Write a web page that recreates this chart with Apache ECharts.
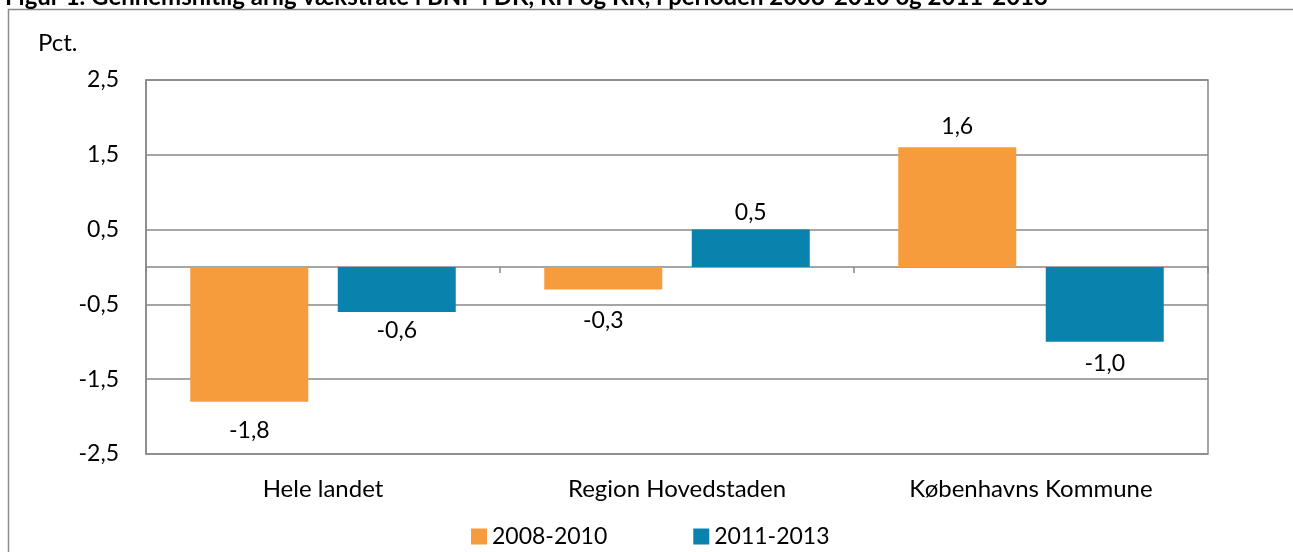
<!DOCTYPE html>
<html>
<head>
<meta charset="utf-8">
<script src="https://cdn.jsdelivr.net/npm/echarts@6/dist/echarts.min.js"></script>
<style>
  html, body { margin: 0; padding: 0; background: #fff; }
  #chart { width: 1293px; height: 552px; }
</style>
</head>
<body>
<div id="chart"></div>
<script>
const categories = ['Hele landet', 'Region Hovedstaden', 'Københavns Kommune'];
const seriesNames = ['2008-2010', '2011-2013'];
const values2008 = [-1.8, -0.3, 1.6];
const values2011 = [-0.6, 0.5, -1.0];
const colors = ['#f79c3c', '#0982ae'];

// the labels in the original sit at slightly different distances from the bars
const labelGap2008 = [17, 20, 9];
const labelGap2011 = [7, 6, 10];

const font = 'Lato, "Open Sans", sans-serif';
const fmt = v => v.toFixed(1).replace('.', ',');

// label above positive bars, below negative ones
function toData(arr, gaps) {
  return arr.map((v, i) => ({
    value: v,
    label: { position: v < 0 ? 'bottom' : 'top', distance: gaps[i] }
  }));
}

const chart = echarts.init(document.getElementById('chart'));
chart.setOption({
  animation: false,
  color: colors,
  title: {
    text: 'Figur 1. Gennemsnitlig årlig vækstrate i BNP i DK, RH og KK, i perioden 2008-2010 og 2011-2013',
    left: 0,
    top: -20,
    textStyle: { fontFamily: font, fontSize: 24, fontWeight: 'bold', color: '#000' }
  },
  graphic: [
    {
      type: 'rect',
      shape: { x: 8.5, y: 9.5, width: 1400, height: 700 },
      style: { fill: 'none', stroke: '#8c8c8c', lineWidth: 1.5 },
      silent: true
    },
    {
      type: 'text',
      left: 38,
      top: 31,
      style: { text: 'Pct.', font: '24px ' + font, fill: '#000' }
    }
  ],
  grid: { left: 146, right: 85, top: 80, bottom: 98, show: true, borderColor: '#888', borderWidth: 1.5 },
  legend: {
    data: seriesNames,
    left: 466,
    top: 520,
    icon: 'rect',
    itemWidth: 16,
    itemHeight: 16,
    itemGap: 86,
    textStyle: { fontFamily: font, fontSize: 23, color: '#000' }
  },
  xAxis: [
    {
      type: 'category',
      data: categories,
      axisLine: { onZero: true, lineStyle: { color: '#888', width: 1.5 } },
      axisTick: { show: true, length: 6, lineStyle: { color: '#888', width: 1.5 } },
      axisLabel: { show: false }
    },
    {
      type: 'category',
      data: categories,
      position: 'bottom',
      axisLine: { show: false, onZero: false },
      axisTick: { show: false },
      axisLabel: { margin: 23, fontFamily: font, fontSize: 24, color: '#000' }
    }
  ],
  yAxis: {
    type: 'value',
    min: -2.5,
    max: 2.5,
    interval: 1,
    axisLine: { show: true, lineStyle: { color: '#888', width: 1.5 } },
    axisTick: { show: false },
    splitLine: { lineStyle: { color: '#888', width: 1.5 } },
    axisLabel: { margin: 27, fontFamily: font, fontSize: 23, color: '#000', formatter: fmt }
  },
  series: [
    {
      name: seriesNames[0],
      type: 'bar',
      xAxisIndex: 0,
      data: toData(values2008, labelGap2008),
      barWidth: 118,
      barGap: '25%',
      label: { show: true, fontFamily: font, fontSize: 23, color: '#000', formatter: p => fmt(p.value) }
    },
    {
      name: seriesNames[1],
      type: 'bar',
      xAxisIndex: 0,
      data: toData(values2011, labelGap2011),
      barWidth: 118,
      barGap: '25%',
      label: { show: true, fontFamily: font, fontSize: 23, color: '#000', formatter: p => fmt(p.value) }
    }
  ]
});
</script>
</body>
</html>
